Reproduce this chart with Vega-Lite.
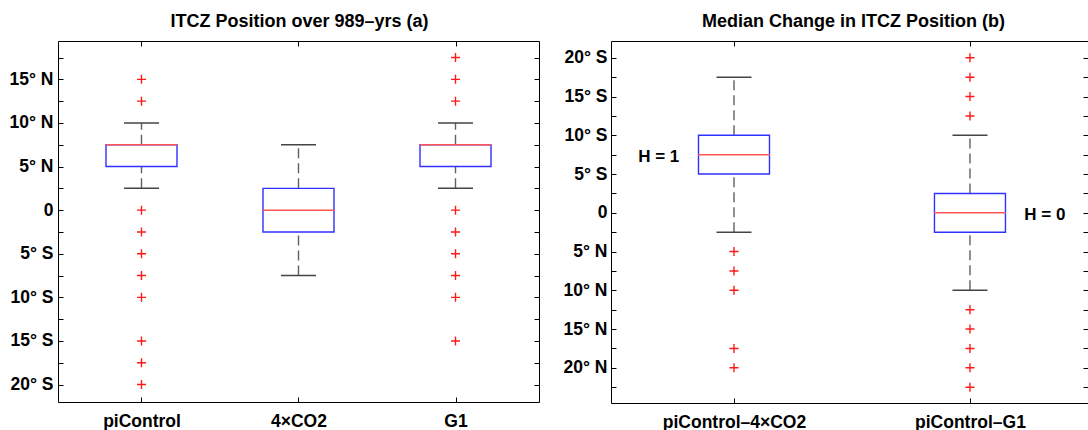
{
  "$schema": "https://vega.github.io/schema/vega-lite/v6.json",
  "padding": {"left": 0, "top": 13, "right": 0, "bottom": 0},
  "spacing": 13,
  "background": "white",
  "config": {
    "view": {"stroke": null},
    "axis": {
      "labelFont": "Liberation Sans", "labelFontSize": 17.5, "labelFontWeight": "bold", "labelColor": "#000",
      "domainColor": "#000", "domainWidth": 1, "tickColor": "#000", "tickWidth": 1, "tickSize": -5,
      "grid": false, "labelOverlap": false, "labelFlush": false
    },
    "title": {"font": "Liberation Sans", "fontSize": 18, "fontWeight": "bold", "color": "#000", "anchor": "middle", "frame": "group", "baseline": "alphabetic", "offset": 9.5}
  },
  "datasets": {
    "boxes": [
      {"panel": "a", "idx": 1, "lower": 2.5, "q1": 5, "median": 7.5, "q3": 7.5, "upper": 10},
      {"panel": "a", "idx": 2, "lower": -7.5, "q1": -2.5, "median": 0, "q3": 2.5, "upper": 7.5},
      {"panel": "a", "idx": 3, "lower": 2.5, "q1": 5, "median": 7.5, "q3": 7.5, "upper": 10},
      {"panel": "b", "idx": 1, "lower": -2.5, "q1": 5, "median": 7.5, "q3": 10, "upper": 17.5},
      {"panel": "b", "idx": 2, "lower": -10, "q1": -2.5, "median": 0, "q3": 2.5, "upper": 10}
    ],
    "outliers": [
      {"panel": "a", "idx": 1, "v": 15}, {"panel": "a", "idx": 1, "v": 12.5}, {"panel": "a", "idx": 1, "v": 0},
      {"panel": "a", "idx": 1, "v": -2.5}, {"panel": "a", "idx": 1, "v": -5}, {"panel": "a", "idx": 1, "v": -7.5},
      {"panel": "a", "idx": 1, "v": -10}, {"panel": "a", "idx": 1, "v": -15}, {"panel": "a", "idx": 1, "v": -17.5},
      {"panel": "a", "idx": 1, "v": -20},
      {"panel": "a", "idx": 3, "v": 17.5}, {"panel": "a", "idx": 3, "v": 15}, {"panel": "a", "idx": 3, "v": 12.5},
      {"panel": "a", "idx": 3, "v": 0}, {"panel": "a", "idx": 3, "v": -2.5}, {"panel": "a", "idx": 3, "v": -5},
      {"panel": "a", "idx": 3, "v": -7.5}, {"panel": "a", "idx": 3, "v": -10}, {"panel": "a", "idx": 3, "v": -15},
      {"panel": "b", "idx": 1, "v": -5}, {"panel": "b", "idx": 1, "v": -7.5}, {"panel": "b", "idx": 1, "v": -10},
      {"panel": "b", "idx": 1, "v": -17.5}, {"panel": "b", "idx": 1, "v": -20},
      {"panel": "b", "idx": 2, "v": 20}, {"panel": "b", "idx": 2, "v": 17.5}, {"panel": "b", "idx": 2, "v": 15},
      {"panel": "b", "idx": 2, "v": 12.5}, {"panel": "b", "idx": 2, "v": -12.5}, {"panel": "b", "idx": 2, "v": -15},
      {"panel": "b", "idx": 2, "v": -17.5}, {"panel": "b", "idx": 2, "v": -20}, {"panel": "b", "idx": 2, "v": -22.5}
    ],
    "notes": [
      {"panel": "b", "x": 0.681, "y": 7.5, "label": "H = 1"},
      {"panel": "b", "x": 2.317, "y": 0, "label": "H = 0"}
    ]
  },
  "hconcat": [
    {
      "width": 481, "height": 361,
      "title": {"text": "ITCZ Position over 989–yrs (a)", "dx": 1},
      "resolve": {"axis": {"x": "independent", "y": "independent"}},
      "layer": [
        {
          "data": {"name": "boxes"}, "transform": [{"filter": "datum.panel == 'a'"}],
          "mark": {"type": "rule", "strokeDash": [10, 5], "color": "#606060", "strokeWidth": 1.4},
          "encoding": {
            "x": {"field": "idx", "type": "quantitative", "title": null,
                  "scale": {"domain": [0.5, 3.5], "nice": false, "zero": false},
                  "axis": {"orient": "bottom", "values": [1, 2, 3], "labelExpr": "datum.value == 1 ? 'piControl' : datum.value == 2 ? '4×CO2' : 'G1'", "labelPadding": 15, "minExtent": 27, "maxExtent": 27}},
            "y": {"field": "lower", "type": "quantitative", "title": null,
                  "scale": {"domain": [-22, 19.4], "nice": false, "zero": false},
                  "axis": {"orient": "left", "values": [-20, -17.5, -15, -12.5, -10, -7.5, -5, -2.5, 0, 2.5, 5, 7.5, 10, 12.5, 15, 17.5],
                           "labelExpr": "datum.value % 5 != 0 ? '' : datum.value > 0 ? datum.value + '° N' : datum.value < 0 ? (-datum.value) + '° S' : '0'",
                           "labelPadding": 10, "minExtent": 58, "maxExtent": 58}},
            "y2": {"field": "q1"}
          }
        },
        {
          "data": {"name": "boxes"}, "transform": [{"filter": "datum.panel == 'a'"}],
          "mark": {"type": "point", "opacity": 0},
          "encoding": {
            "x": {"field": "idx", "type": "quantitative", "title": null,
                  "scale": {"domain": [0.5, 3.5], "nice": false, "zero": false},
                  "axis": {"orient": "top", "values": [1, 2, 3], "labels": false, "minExtent": 0, "maxExtent": 0}},
            "y": {"field": "median", "type": "quantitative", "title": null,
                  "scale": {"domain": [-22, 19.4], "nice": false, "zero": false},
                  "axis": {"orient": "right", "labels": false, "values": [-20, -17.5, -15, -12.5, -10, -7.5, -5, -2.5, 0, 2.5, 5, 7.5, 10, 12.5, 15, 17.5], "minExtent": 0, "maxExtent": 0}}
          }
        },
        {
          "data": {"name": "boxes"}, "transform": [{"filter": "datum.panel == 'a'"}],
          "mark": {"type": "rule", "strokeDash": [10, 5], "color": "#606060", "strokeWidth": 1.4},
          "encoding": {
            "x": {"field": "idx", "type": "quantitative", "title": null, "axis": null},
            "y": {"field": "q3", "type": "quantitative", "title": null, "axis": null},
            "y2": {"field": "upper"}
          }
        },
        {
          "data": {"name": "boxes"}, "transform": [{"filter": "datum.panel == 'a'"}],
          "mark": {"type": "tick", "orient": "horizontal", "size": 35, "thickness": 1.5, "color": "#444", "opacity": 1},
          "encoding": {
            "x": {"field": "idx", "type": "quantitative", "title": null, "axis": null},
            "y": {"field": "lower", "type": "quantitative", "title": null, "axis": null}
          }
        },
        {
          "data": {"name": "boxes"}, "transform": [{"filter": "datum.panel == 'a'"}],
          "mark": {"type": "tick", "orient": "horizontal", "size": 35, "thickness": 1.5, "color": "#444", "opacity": 1},
          "encoding": {
            "x": {"field": "idx", "type": "quantitative", "title": null, "axis": null},
            "y": {"field": "upper", "type": "quantitative", "title": null, "axis": null}
          }
        },
        {
          "data": {"name": "boxes"}, "transform": [{"filter": "datum.panel == 'a'"}],
          "mark": {"type": "bar", "width": 71, "fill": "white", "stroke": "#3030ff", "strokeWidth": 1.4},
          "encoding": {
            "x": {"field": "idx", "type": "quantitative", "title": null, "axis": null},
            "y": {"field": "q1", "type": "quantitative", "title": null, "axis": null},
            "y2": {"field": "q3"}
          }
        },
        {
          "data": {"name": "boxes"}, "transform": [{"filter": "datum.panel == 'a'"}],
          "mark": {"type": "tick", "orient": "horizontal", "size": 72, "thickness": 1.5, "color": "#ff5555", "opacity": 1},
          "encoding": {
            "x": {"field": "idx", "type": "quantitative", "title": null, "axis": null},
            "y": {"field": "median", "type": "quantitative", "title": null, "axis": null}
          }
        },
        {
          "data": {"name": "outliers"}, "transform": [{"filter": "datum.panel == 'a'"}],
          "mark": {"type": "point", "shape": "M-1,0L1,0M0,-1L0,1", "size": 81, "filled": false, "stroke": "#ff1a1a", "strokeWidth": 1.4, "opacity": 1},
          "encoding": {
            "x": {"field": "idx", "type": "quantitative", "title": null, "axis": null},
            "y": {"field": "v", "type": "quantitative", "title": null, "axis": null}
          }
        }
      ]
    },
    {
      "width": 477, "height": 362,
      "title": {"text": "Median Change in ITCZ Position (b)", "dx": 4},
      "resolve": {"axis": {"x": "independent", "y": "independent"}},
      "layer": [
        {
          "data": {"name": "boxes"}, "transform": [{"filter": "datum.panel == 'b'"}],
          "mark": {"type": "rule", "strokeDash": [10, 5], "color": "#606060", "strokeWidth": 1.4},
          "encoding": {
            "x": {"field": "idx", "type": "quantitative", "title": null,
                  "scale": {"domain": [0.5, 2.479], "nice": false, "zero": false},
                  "axis": {"orient": "bottom", "values": [1, 2], "labelExpr": "datum.value == 1 ? 'piControl–4×CO2' : 'piControl–G1'", "labelPadding": 15, "minExtent": 27, "maxExtent": 27}},
            "y": {"field": "lower", "type": "quantitative", "title": null,
                  "scale": {"domain": [-24.54, 22.17], "nice": false, "zero": false},
                  "axis": {"orient": "left", "values": [-22.5, -20, -17.5, -15, -12.5, -10, -7.5, -5, -2.5, 0, 2.5, 5, 7.5, 10, 12.5, 15, 17.5, 20],
                           "labelExpr": "datum.value % 5 != 0 ? '' : datum.value > 0 ? datum.value + '° S' : datum.value < 0 ? (-datum.value) + '° N' : '0'",
                           "labelPadding": 9, "minExtent": 58, "maxExtent": 58}},
            "y2": {"field": "q1"}
          }
        },
        {
          "data": {"name": "boxes"}, "transform": [{"filter": "datum.panel == 'b'"}],
          "mark": {"type": "point", "opacity": 0},
          "encoding": {
            "x": {"field": "idx", "type": "quantitative", "title": null,
                  "scale": {"domain": [0.5, 2.479], "nice": false, "zero": false},
                  "axis": {"orient": "top", "values": [1, 2], "labels": false, "minExtent": 0, "maxExtent": 0}},
            "y": {"field": "median", "type": "quantitative", "title": null,
                  "scale": {"domain": [-24.54, 22.17], "nice": false, "zero": false},
                  "axis": {"orient": "right", "labels": false, "domain": false, "values": [-22.5, -20, -17.5, -15, -12.5, -10, -7.5, -5, -2.5, 0, 2.5, 5, 7.5, 10, 12.5, 15, 17.5, 20], "minExtent": 0, "maxExtent": 0}}
          }
        },
        {
          "data": {"name": "boxes"}, "transform": [{"filter": "datum.panel == 'b'"}],
          "mark": {"type": "rule", "strokeDash": [10, 5], "color": "#606060", "strokeWidth": 1.4},
          "encoding": {
            "x": {"field": "idx", "type": "quantitative", "title": null, "axis": null},
            "y": {"field": "q3", "type": "quantitative", "title": null, "axis": null},
            "y2": {"field": "upper"}
          }
        },
        {
          "data": {"name": "boxes"}, "transform": [{"filter": "datum.panel == 'b'"}],
          "mark": {"type": "tick", "orient": "horizontal", "size": 35, "thickness": 1.5, "color": "#444", "opacity": 1},
          "encoding": {
            "x": {"field": "idx", "type": "quantitative", "title": null, "axis": null},
            "y": {"field": "lower", "type": "quantitative", "title": null, "axis": null}
          }
        },
        {
          "data": {"name": "boxes"}, "transform": [{"filter": "datum.panel == 'b'"}],
          "mark": {"type": "tick", "orient": "horizontal", "size": 35, "thickness": 1.5, "color": "#444", "opacity": 1},
          "encoding": {
            "x": {"field": "idx", "type": "quantitative", "title": null, "axis": null},
            "y": {"field": "upper", "type": "quantitative", "title": null, "axis": null}
          }
        },
        {
          "data": {"name": "boxes"}, "transform": [{"filter": "datum.panel == 'b'"}],
          "mark": {"type": "bar", "width": 71, "fill": "white", "stroke": "#3030ff", "strokeWidth": 1.4},
          "encoding": {
            "x": {"field": "idx", "type": "quantitative", "title": null, "axis": null},
            "y": {"field": "q1", "type": "quantitative", "title": null, "axis": null},
            "y2": {"field": "q3"}
          }
        },
        {
          "data": {"name": "boxes"}, "transform": [{"filter": "datum.panel == 'b'"}],
          "mark": {"type": "tick", "orient": "horizontal", "size": 72, "thickness": 1.5, "color": "#ff5555", "opacity": 1},
          "encoding": {
            "x": {"field": "idx", "type": "quantitative", "title": null, "axis": null},
            "y": {"field": "median", "type": "quantitative", "title": null, "axis": null}
          }
        },
        {
          "data": {"name": "outliers"}, "transform": [{"filter": "datum.panel == 'b'"}],
          "mark": {"type": "point", "shape": "M-1,0L1,0M0,-1L0,1", "size": 81, "filled": false, "stroke": "#ff1a1a", "strokeWidth": 1.4, "opacity": 1},
          "encoding": {
            "x": {"field": "idx", "type": "quantitative", "title": null, "axis": null},
            "y": {"field": "v", "type": "quantitative", "title": null, "axis": null}
          }
        },
        {
          "data": {"name": "notes"},
          "mark": {"type": "text", "font": "Liberation Sans", "fontSize": 17, "fontWeight": "bold", "color": "#000", "align": "center", "baseline": "middle", "dy": 2},
          "encoding": {
            "x": {"field": "x", "type": "quantitative", "title": null, "axis": null},
            "y": {"field": "y", "type": "quantitative", "title": null, "axis": null},
            "text": {"field": "label"}
          }
        }
      ]
    }
  ]
}
